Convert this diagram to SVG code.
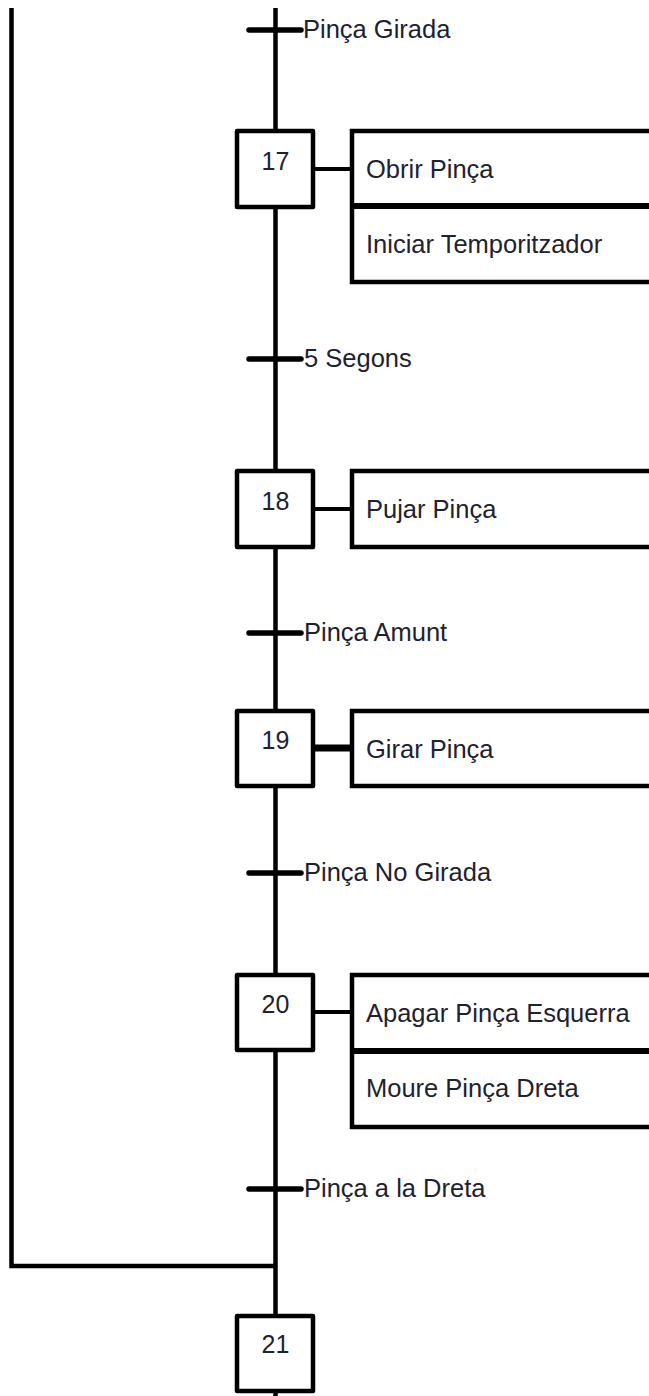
<svg xmlns="http://www.w3.org/2000/svg" width="649" height="1396" viewBox="0 0 649 1396">
<style>
.ln{stroke:#000;stroke-width:4.5;fill:none;stroke-linecap:butt}
.lk{stroke:#000;stroke-width:4;fill:none}
.tb{stroke:#000;stroke-width:5.5;stroke-linecap:round;fill:none}
.box{fill:#fff;stroke:#000;stroke-width:4.5;stroke-linejoin:round}
.act{fill:#fff;stroke:#000;stroke-width:4.5}
.dv{stroke:#000;stroke-width:6}
.t{font-family:"Liberation Sans",Arial,sans-serif;font-size:25.5px;fill:#1e2230}
.n{font-family:"Liberation Sans",Arial,sans-serif;font-size:25px;fill:#1e2230;text-anchor:middle}
</style>
<rect width="649" height="1396" fill="#fff"/>
<g id="connectors">
<line class="ln" x1="275.5" y1="8" x2="275.5" y2="131"/>
<line class="ln" x1="275.5" y1="207" x2="275.5" y2="471"/>
<line class="ln" x1="275.5" y1="547" x2="275.5" y2="711"/>
<line class="ln" x1="275.5" y1="786" x2="275.5" y2="975"/>
<line class="ln" x1="275.5" y1="1050" x2="275.5" y2="1316"/>
<line class="ln" x1="275.5" y1="1391" x2="275.5" y2="1396"/>
<polyline class="ln" points="11.5,8 11.5,1266 275.5,1266"/>
<line class="lk" x1="313" y1="169" x2="352" y2="169"/>
<line class="lk" x1="313" y1="509" x2="352" y2="509"/>
<line class="ln" style="stroke-width:7" x1="313" y1="748" x2="352" y2="748"/>
<line class="lk" x1="313" y1="1012" x2="352" y2="1012"/>
</g>
<g id="t16"><line class="tb" x1="249" y1="30" x2="301" y2="30"/><text class="t" x="303" y="37.5">Pinça Girada</text></g>
<g id="t17"><line class="tb" x1="249" y1="359" x2="301" y2="359"/><text class="t" x="304" y="367">5 Segons</text></g>
<g id="t18"><line class="tb" x1="249" y1="633" x2="301" y2="633"/><text class="t" x="304" y="641">Pinça Amunt</text></g>
<g id="t19"><line class="tb" x1="249" y1="873" x2="301" y2="873"/><text class="t" x="304" y="881">Pinça No Girada</text></g>
<g id="t20"><line class="tb" x1="249" y1="1189" x2="301" y2="1189"/><text class="t" x="304" y="1197">Pinça a la Dreta</text></g>
<g id="s17"><rect class="box" x="237" y="131" width="76" height="76"/><text class="n" x="275.5" y="170">17</text></g>
<g id="a17"><rect class="act" x="352" y="131" width="310" height="151"/><line class="dv" x1="352" y1="206" x2="662" y2="206"/><text class="t" x="366" y="178">Obrir Pinça</text><text class="t" x="366" y="253">Iniciar Temporitzador</text></g>
<g id="s18"><rect class="box" x="237" y="471" width="76" height="76"/><text class="n" x="275.5" y="510">18</text></g>
<g id="a18"><rect class="act" x="352" y="471" width="310" height="76"/><text class="t" x="366" y="518">Pujar Pinça</text></g>
<g id="s19"><rect class="box" x="237" y="711" width="76" height="75"/><text class="n" x="275.5" y="749">19</text></g>
<g id="a19"><rect class="act" x="352" y="711" width="310" height="75"/><text class="t" x="366" y="758">Girar Pinça</text></g>
<g id="s20"><rect class="box" x="237" y="975" width="76" height="75"/><text class="n" x="275.5" y="1013">20</text></g>
<g id="a20"><rect class="act" x="352" y="975" width="310" height="152"/><line class="dv" x1="352" y1="1051" x2="662" y2="1051"/><text class="t" x="366" y="1022">Apagar Pinça Esquerra</text><text class="t" x="366" y="1097">Moure Pinça Dreta</text></g>
<g id="s21"><rect class="box" x="237" y="1316" width="76" height="75"/><text class="n" x="275.5" y="1353">21</text></g>
</svg>
